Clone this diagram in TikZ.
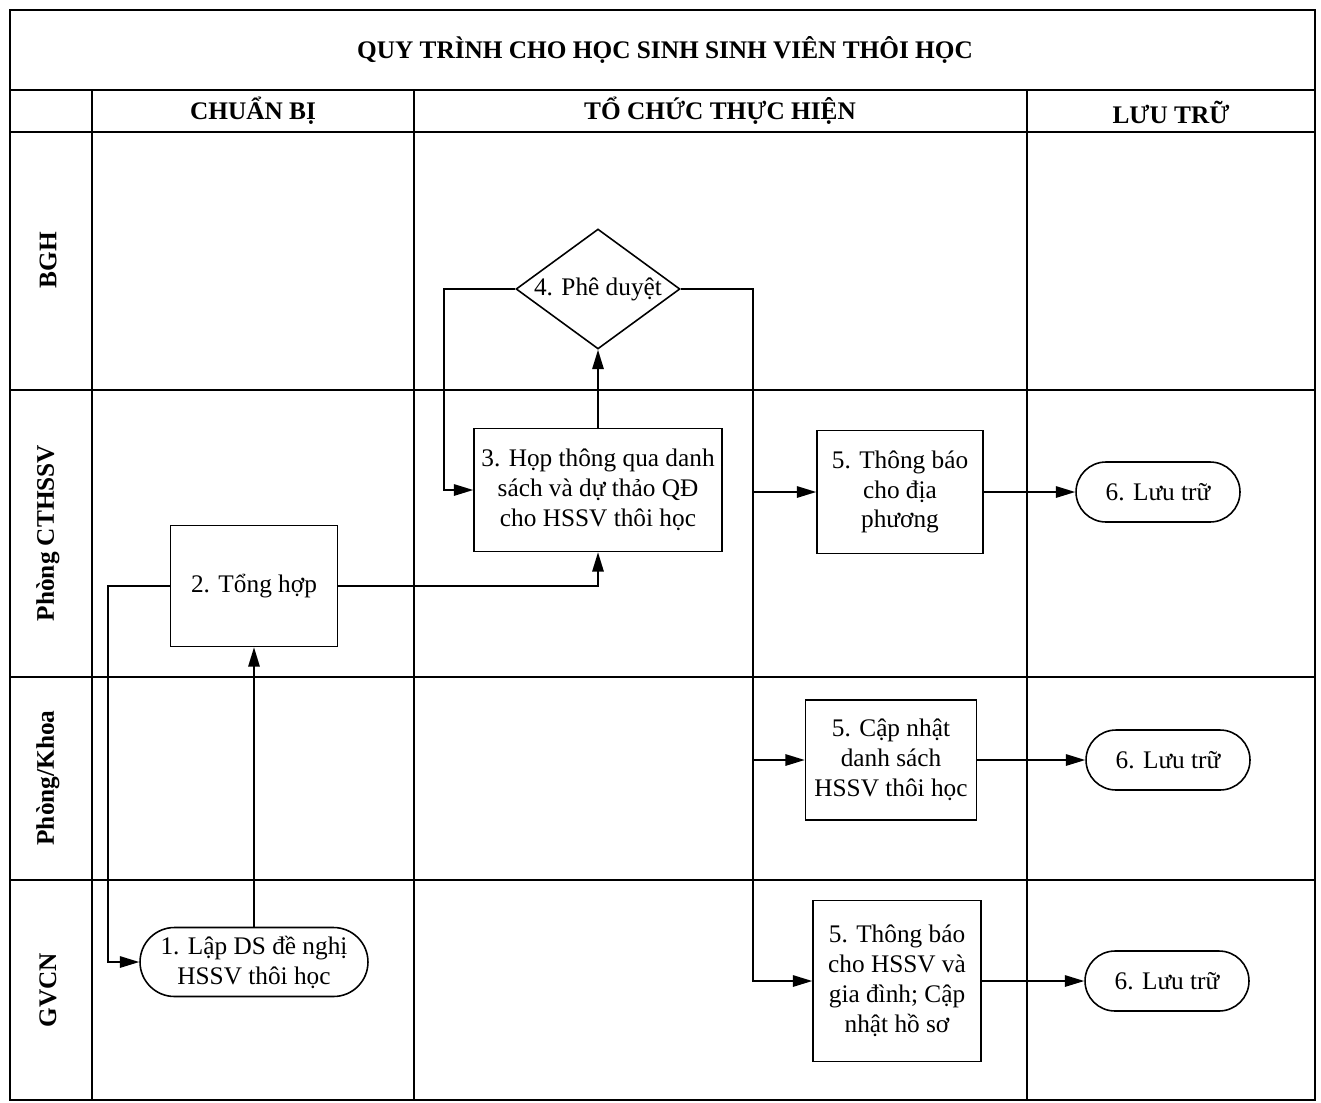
\documentclass[tikz,border=0pt]{standalone}
\usepackage{fontspec}
\setmainfont{Liberation Serif}
\usetikzlibrary{arrows.meta,positioning,shapes.geometric,calc}

\begin{document}
\begin{tikzpicture}[
  x=0.02cm, y=-0.02cm,
  grid/.style={line width=1.2pt},
  head/.style={font=\fontsize{14.4}{17}\selectfont\bfseries},
  lane/.style={font=\fontsize{14.4}{17}\selectfont\bfseries, rotate=90},
  task/.style={rectangle, draw, line width=0.9pt, align=center, inner sep=2pt,
               font=\fontsize{14.4}{17}\selectfont},
  term/.style={rectangle, draw, line width=0.9pt, align=center, inner sep=2pt,
               rounded corners=0.6cm, minimum width=3.28cm, minimum height=1.2cm,
               font=\fontsize{14.4}{17}\selectfont},
  decide/.style={diamond, draw, line width=0.9pt, aspect=1.37, inner sep=0pt,
                 minimum width=3.28cm, minimum height=2.4cm,
                 font=\fontsize{14.4}{17}\selectfont},
  arr/.style={-{Triangle[length=11pt,width=6.5pt]}, line width=0.9pt}
]
\useasboundingbox (0,0) rectangle (1321,1102);

\draw[grid] (10,10) rectangle (1315,1100);
\draw[grid] (10,90) -- (1315,90);
\draw[grid] (10,132) -- (1315,132);
\draw[grid] (10,390) -- (1315,390);
\draw[grid] (10,677) -- (1315,677);
\draw[grid] (10,880) -- (1315,880);
\draw[grid] (92,90) -- (92,1100);
\draw[grid] (414,90) -- (414,1100);
\draw[grid] (1027,90) -- (1027,1100);

\node[head] (title) at (665,50) {QUY TRÌNH CHO HỌC SINH SINH VIÊN THÔI HỌC};
\node[head] (hPrep) at (253,111) {CHUẨN BỊ};
\node[head] (hExec) at (720,111) {TỔ CHỨC THỰC HIỆN};
\node[head] (hStore) at (1171,112) {LƯU TRỮ};

\node[lane] (lBGH) at (48,260) {BGH};
\node[lane] (lCT) at (48,533) {Phòng CTHSSV};
\node[lane] (lKhoa) at (48,778) {Phòng/Khoa};
\node[lane] (lGV) at (48,990) {GVCN};

\node[decide] (d4) at (598,289) {4. Phê duyệt};
\node[task, minimum width=4.96cm, minimum height=2.46cm] (n3) at (598,490)
  {3. Họp thông qua danh\\sách và dự thảo QĐ\\cho HSSV thôi học};
\node[task, minimum width=3.34cm, minimum height=2.42cm] (n2) at (254,586) {2. Tổng hợp};
\node[term, minimum width=4.56cm, minimum height=1.38cm, rounded corners=0.69cm] (n1)
  at (254,962) {1. Lập DS đề nghị\\HSSV thôi học};

\node[task, minimum width=3.32cm, minimum height=2.46cm] (n5a) at (900,492)
  {5. Thông báo\\cho địa\\phương};
\node[task, minimum width=3.42cm, minimum height=2.4cm] (n5b) at (891,760)
  {5. Cập nhật\\danh sách\\HSSV thôi học};
\node[task, minimum width=3.36cm, minimum height=3.22cm] (n5c) at (897,981)
  {5. Thông báo\\cho HSSV và\\gia đình; Cập\\nhật hồ sơ};

\node[term] (n6a) at (1158,492) {6. Lưu trữ};
\node[term] (n6b) at (1168,760) {6. Lưu trữ};
\node[term] (n6c) at (1167,981) {6. Lưu trữ};

\coordinate (back1) at (108,0);
\coordinate (back3) at (444,0);
\coordinate (split) at (753,0);

\draw[arr] (n1.north) -- (n2.south);
\draw[arr] (n2.west) -- (n2.west -| back1) |- (n1.west);
\draw[arr] (n2.east) -| (n3.south);
\draw[arr] (n3.north) -- (d4.south);
\draw[arr] (d4.west) -- (d4.west -| back3) |- (n3.west);
\draw[arr] (d4.east) -- (d4.east -| split) |- (n5c.west);
\draw[arr] (n5a.west -| split) -- (n5a.west);
\draw[arr] (n5b.west -| split) -- (n5b.west);
\draw[arr] (n5a.east) -- (n6a.west);
\draw[arr] (n5b.east) -- (n6b.west);
\draw[arr] (n5c.east) -- (n6c.west);
\end{tikzpicture}
\end{document}
